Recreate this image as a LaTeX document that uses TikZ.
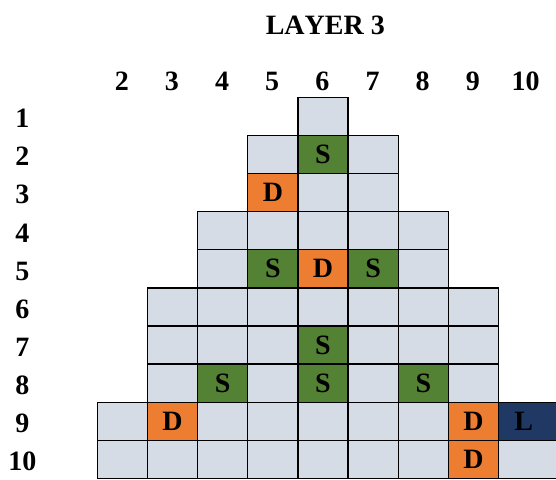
\documentclass[tikz,border=0pt]{standalone}
\usepackage{fontspec}
\setmainfont[Kerning=Off]{Liberation Serif}
\definecolor{cellgray}{HTML}{D6DCE5}
\definecolor{sgreen}{HTML}{548235}
\definecolor{dorange}{HTML}{ED7D31}
\definecolor{lblue}{HTML}{203864}
\expandafter\def\csname k6-2\endcsname{S}
\expandafter\def\csname k5-3\endcsname{D}
\expandafter\def\csname k5-5\endcsname{S}
\expandafter\def\csname k6-5\endcsname{D}
\expandafter\def\csname k7-5\endcsname{S}
\expandafter\def\csname k6-7\endcsname{S}
\expandafter\def\csname k4-8\endcsname{S}
\expandafter\def\csname k6-8\endcsname{S}
\expandafter\def\csname k8-8\endcsname{S}
\expandafter\def\csname k3-9\endcsname{D}
\expandafter\def\csname k9-9\endcsname{D}
\expandafter\def\csname k10-9\endcsname{L}
\expandafter\def\csname k9-10\endcsname{D}
\begin{document}
\begin{tikzpicture}[x=1pt,y=-1pt,
  bigfont/.style={font=\bfseries\fontsize{28}{28}\selectfont},
  cell/.style={bigfont, draw=black, line width=1.3pt, fill=cellgray,
    minimum width=50.15pt, minimum height=38.1pt, inner sep=0pt, anchor=north west},
  wide/.style={minimum width=70pt},
  kN/.style={fill=cellgray},
  kS/.style={fill=sgreen},
  kD/.style={fill=dorange},
  kL/.style={fill=lblue},
  lab/.style={bigfont, inner sep=0pt, anchor=base}]
\useasboundingbox (0,0) rectangle (556,479);
\clip (0,0) rectangle (556,479);
\node[lab] (title) at (325.3,34.3) {LAYER 3};
\foreach \c in {2,...,9}{
  \node[lab] (col\c) at ({96.7+(\c-2)*50.15+25.07},90) {\c};
}
\node[lab] (col10) at (525.5,90) {10};
\foreach \r/\a/\b in {1/6/6,2/5/7,3/5/7,4/4/8,5/4/8,6/3/9,7/3/9,8/3/9,9/2/10,10/2/10}{
  \node[lab] (row\r) at (22.5,{96.7+(\r-1)*38.1+19.05+12}) {\r};
  \foreach \c in {\a,...,\b}{
    \ifcsname k\c-\r\endcsname
      \edef\kind{\csname k\c-\r\endcsname}\edef\ctext{\kind}%
    \else
      \def\kind{N}\def\ctext{}%
    \fi
    \ifnum\c=10
      \node[cell, wide, k\kind] (c\c-\r) at ({96.7+(\c-2)*50.15},{96.7+(\r-1)*38.1})
        {\makebox[50.15pt]{\ctext}\hspace*{19.85pt}};
    \else
      \node[cell, k\kind] (c\c-\r) at ({96.7+(\c-2)*50.15},{96.7+(\r-1)*38.1}) {\ctext};
    \fi
  }
}
\end{tikzpicture}
\end{document}
